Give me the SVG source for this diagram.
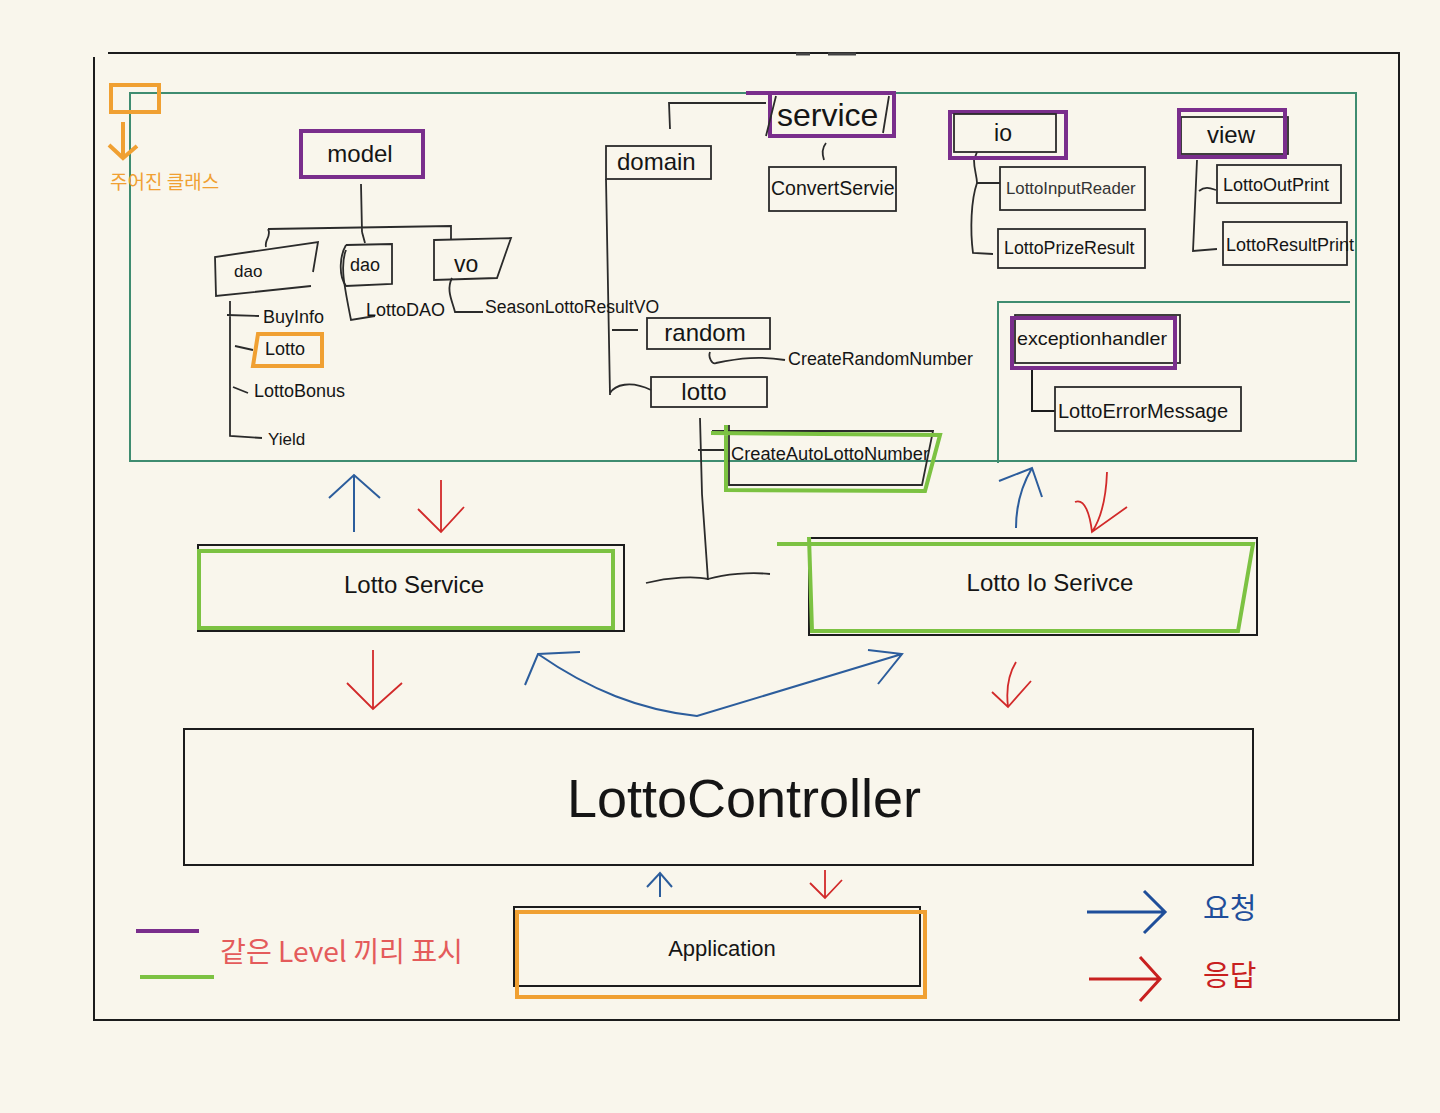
<svg xmlns="http://www.w3.org/2000/svg" width="1440" height="1113" viewBox="0 0 1440 1113">
<style>
text{font-family:"Liberation Sans","Noto Sans CJK KR",sans-serif;fill:#151515}
.k{font-family:"Noto Sans CJK KR","Liberation Sans",sans-serif}
.b{fill:none;stroke:#1c1c1c;stroke-width:2}
.t{fill:none;stroke:#2b2b2b;stroke-width:1.8}
.p{fill:none;stroke:#7a2e8c;stroke-width:4}
.g{fill:none;stroke:#7cc242;stroke-width:4}
.o{fill:none;stroke:#f0a032;stroke-width:4}
.tl{fill:none;stroke:#3f8c70;stroke-width:2}
.bl{fill:none;stroke:#2c5d9c;stroke-width:2}
.rd{fill:none;stroke:#d22a2a;stroke-width:1.8}
.m{font-size:24px}
.s{font-size:18px}
</style>
<rect width="1440" height="1113" fill="#f9f6ec"/>
<g id="frame">
<path class="b" d="M108,53 L1399,53 L1399,1020 L94,1020 L94,57"/>
<path d="M796,54 L810,54 M828,54 L856,54" stroke="#444" stroke-width="3"/>
<rect class="tl" x="130" y="93" width="1226" height="368"/>
<path class="tl" d="M998,463 L998,302 L1350,302"/>
</g>
<g id="given-class-legend">
<rect x="111" y="85" width="48" height="27" class="o" stroke-width="3"/>
<path class="o" stroke-width="3" d="M123,122 L123,158 M109,145 L123,158 L137,146"/>
<text class="k" x="110" y="189" font-size="19" style="fill:#f0a032">주어진 클래스</text>
</g>
<g id="connectors">
<path class="t" d="M361,184 L362,232 M268,229 L451,226 L451,240 M268,229 C272,236 264,240 266,247 M362,232 L365,243"/>
<path class="t" d="M230,301 L230,436 L262,438 M227,315 L259,316 M235,346 L253,350 M233,387 L248,393"/>
<path class="t" d="M346,250 C340,265 344,285 351,320 L375,316"/>
<path class="t" d="M452,278 C446,290 452,300 455,312 L483,312"/>
<path class="t" d="M766,103 L669,103 L670,129"/>
<path class="t" d="M826,143 C822,148 822,154 824,160"/>
<path class="t" d="M606,179 L610,395 M612,330 L638,330 M610,393 C615,385 630,380 651,390"/>
<path class="t" d="M710,352 C708,357 712,365 716,363 C740,358 760,356 785,360"/>
<path class="t" d="M700,418 L702,494 L708,580 M698,450 L725,450"/>
<path class="t" d="M646,583 C670,577 695,576 708,579 C725,574 750,572 770,574"/>
<path class="t" d="M977,152 L974,160 C974,170 977,176 977,183 L1000,183 M977,183 C971,200 970,230 973,253 L993,254"/>
<path class="t" d="M1197,160 L1193,251 L1217,249 M1199,191 C1205,186 1210,188 1216,190"/>
<path class="b" d="M1032,368 L1032,411 L1055,411"/>
<path class="bl" d="M354,532 L354,475 M329,498 L354,475 L380,498"/>
<path class="rd" d="M441,480 L441,532 M418,509 L441,532 L464,507"/>
<path class="bl" d="M1016,528 C1016,505 1022,485 1032,468 M999,481 L1032,468 L1042,497"/>
<path class="rd" d="M1107,472 C1106,500 1100,520 1092,532 M1075,502 C1085,498 1090,515 1092,532 L1127,507"/>
<path class="rd" d="M373,650 L373,709 M347,683 L373,709 L402,683"/>
<path class="rd" d="M1016,662 C1008,675 1006,690 1008,707 M992,692 L1008,707 L1031,681"/>
<path class="bl" d="M538,654 C590,690 640,710 697,716 L902,654 M580,652 L538,654 L525,685 M868,650 L902,654 L878,684"/>
<path class="bl" stroke-width="1.6" d="M660,897 L660,873 M647,887 L660,873 L672,887"/>
<path class="rd" stroke-width="1.6" d="M825,870 L825,898 M810,883 L825,898 L842,880"/>
</g>
<g id="model">
<rect class="p" x="301" y="131" width="122" height="46"/>
<text class="m" x="360" y="162" text-anchor="middle">model</text>
</g>
<g id="dao1">
<path class="t" d="M311,286 L216,296 L215,257 L318,242 L313,272"/>
<text x="234" y="277" font-size="17">dao</text>
</g>
<g id="dao2">
<path class="t" d="M346,245 L392,244 L392,284 L346,286 C338,275 340,255 346,245"/>
<text x="350" y="271" font-size="18">dao</text>
</g>
<g id="vo">
<path class="t" d="M434,240 L511,238 L497,278 L434,280 Z"/>
<text x="454" y="272" font-size="23">vo</text>
</g>
<g id="buyinfo"><text class="s" x="263" y="323">BuyInfo</text></g>
<g id="lotto-class">
<path class="o" stroke-width="3.5" d="M258,334 L322,334 L322,366 L253,366 Z"/>
<text class="s" x="265" y="355">Lotto</text>
</g>
<g id="lottobonus"><text class="s" x="254" y="397">LottoBonus</text></g>
<g id="yield"><text x="268" y="445" font-size="17">Yield</text></g>
<g id="lottodao"><text class="s" x="366" y="316">LottoDAO</text></g>
<g id="seasonvo"><text x="485" y="313" font-size="17.6">SeasonLottoResultVO</text></g>
<g id="service">
<path class="p" d="M746,93 L894,93 L894,136 L770,136 L770,93"/>
<path class="t" d="M776,96 L766,136 M889,96 L883,133"/>
<text x="777" y="126" font-size="32">service</text>
</g>
<g id="convertservie">
<rect class="t" x="769" y="167" width="127" height="44"/>
<text x="771" y="195" font-size="19.5">ConvertServie</text>
</g>
<g id="domain">
<rect class="t" x="606" y="146" width="105" height="33"/>
<text class="m" x="617" y="170">domain</text>
</g>
<g id="random">
<rect class="t" x="647" y="318" width="123" height="31"/>
<text class="m" x="705" y="341" text-anchor="middle">random</text>
</g>
<g id="createrandom"><text x="788" y="365" font-size="17.9">CreateRandomNumber</text></g>
<g id="lotto-pkg">
<rect class="t" x="651" y="377" width="116" height="30"/>
<text class="m" x="704" y="400" text-anchor="middle">lotto</text>
</g>
<g id="createauto">
<path class="t" d="M712,431 L933,431 L922,485 L729,485 L729,425"/>
<path class="g" stroke-width="3.5" d="M711,433 L940,435 L925,491 L726,490 L726,425"/>
<text x="731" y="460" font-size="17.5" textLength="198" lengthAdjust="spacingAndGlyphs">CreateAutoLottoNumber</text>
</g>
<g id="io">
<rect class="p" x="950" y="112" width="116" height="46"/>
<rect class="t" x="954" y="114" width="102" height="38"/>
<text x="1003" y="141" font-size="23" text-anchor="middle">io</text>
</g>
<g id="lottoinputreader">
<rect class="t" x="1000" y="167" width="145" height="43"/>
<text x="1006" y="194" font-size="16.8" style="fill:#333">LottoInputReader</text>
</g>
<g id="lottoprizeresult">
<rect class="t" x="998" y="229" width="147" height="39"/>
<text x="1004" y="254" font-size="17.8">LottoPrizeResult</text>
</g>
<g id="view">
<rect class="t" x="1181" y="117" width="107" height="37"/>
<rect class="p" x="1179" y="110" width="106" height="47"/>
<text class="m" x="1231" y="143" text-anchor="middle">view</text>
</g>
<g id="lottooutprint">
<rect class="t" x="1217" y="165" width="124" height="38"/>
<text class="s" x="1223" y="191">LottoOutPrint</text>
</g>
<g id="lottoresultprint">
<rect class="t" x="1223" y="222" width="124" height="43"/>
<text class="s" x="1226" y="251">LottoResultPrint</text>
</g>
<g id="exceptionhandler">
<rect class="t" x="1015" y="315" width="165" height="48"/>
<rect class="p" x="1012" y="318" width="163" height="50"/>
<text x="1017" y="345" font-size="19" textLength="150" lengthAdjust="spacingAndGlyphs">exceptionhandler</text>
</g>
<g id="lottoerrormessage">
<rect class="t" x="1055" y="387" width="186" height="44"/>
<text x="1058" y="418" font-size="20">LottoErrorMessage</text>
</g>
<g id="lottoservice">
<rect class="b" x="198" y="545" width="426" height="86"/>
<rect class="g" x="199" y="551" width="414" height="77"/>
<text class="m" x="414" y="593" text-anchor="middle">Lotto Service</text>
</g>
<g id="lottoioservice">
<rect class="b" x="809" y="538" width="448" height="97"/>
<path class="g" d="M777,544 L1253,544 L1238,631 L812,631 L809,537"/>
<text class="m" x="1050" y="591" text-anchor="middle">Lotto Io Serivce</text>
</g>
<g id="lottocontroller">
<rect class="b" x="184" y="729" width="1069" height="136"/>
<text x="744" y="817" font-size="54" text-anchor="middle">LottoController</text>
</g>
<g id="application">
<rect class="b" x="514" y="907" width="406" height="79"/>
<rect class="o" x="517" y="912" width="408" height="85"/>
<text x="722" y="956" font-size="22" text-anchor="middle">Application</text>
</g>
<g id="level-legend">
<path d="M136,931 L199,931" stroke="#7a2e8c" stroke-width="4"/>
<path d="M140,977 L214,977" stroke="#7cc242" stroke-width="4"/>
<text class="k" x="220" y="962" font-size="28" textLength="243" lengthAdjust="spacingAndGlyphs" style="fill:#e45b5b">같은 Level 끼리 표시</text>
</g>
<g id="request-legend">
<path d="M1087,912 L1165,912 M1144,891 L1165,912 L1144,933" fill="none" stroke="#1f4e9a" stroke-width="3"/>
<text class="k" x="1203" y="919" font-size="29" style="fill:#1f4e9a">요청</text>
</g>
<g id="response-legend">
<path d="M1089,979 L1160,979 M1140,957 L1160,979 L1140,1001" fill="none" stroke="#c8201f" stroke-width="3"/>
<text class="k" x="1203" y="986" font-size="29" style="fill:#c8201f">응답</text>
</g>
</svg>
